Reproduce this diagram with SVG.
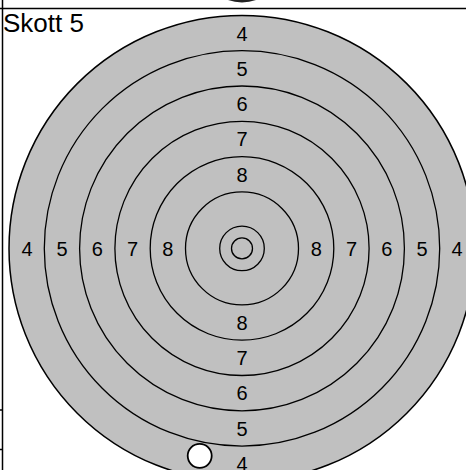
<svg xmlns="http://www.w3.org/2000/svg" width="466" height="470" viewBox="0 0 466 470">
<style>
.ring{fill:none;stroke:#000;stroke-width:1.3}
.lbl{font-family:"Liberation Sans",Arial,sans-serif;font-size:20px;fill:#000;text-anchor:middle}
.frame{stroke:#000;stroke-width:1.5;fill:none}
</style>
<rect width="466" height="470" fill="#fff"/>
<g id="frame">
<circle cx="242" cy="-38" r="40.5" fill="#222"/>
<line class="frame" x1="0" y1="8.5" x2="466" y2="8.5"/>
<line class="frame" x1="2.5" y1="0" x2="2.5" y2="470"/>
<line class="frame" x1="0" y1="410" x2="3" y2="410"/>
<line class="frame" x1="0" y1="449.5" x2="3" y2="449.5"/>
</g>
<g id="target">
<circle cx="242" cy="248.4" r="233" fill="#c0c0c0" stroke="#000" stroke-width="1.5"/>
<circle class="ring" cx="242" cy="248.4" r="197.7"/>
<circle class="ring" cx="242" cy="248.4" r="162.4"/>
<circle class="ring" cx="242" cy="248.4" r="127.1"/>
<circle class="ring" cx="242" cy="248.4" r="91.8"/>
<circle class="ring" cx="242" cy="248.4" r="56.5"/>
<circle class="ring" cx="242" cy="248.4" r="22.3"/>
<circle class="ring" cx="242" cy="248.4" r="10.5"/>
</g>
<g id="labels">
<text class="lbl" x="242" y="40.5">4</text>
<text class="lbl" x="242" y="75.8">5</text>
<text class="lbl" x="242" y="111.1">6</text>
<text class="lbl" x="242" y="146.4">7</text>
<text class="lbl" x="242" y="181.7">8</text>
<text class="lbl" x="242" y="329.8">8</text>
<text class="lbl" x="242" y="365.1">7</text>
<text class="lbl" x="242" y="400.4">6</text>
<text class="lbl" x="242" y="435.7">5</text>
<text class="lbl" x="242" y="471">4</text>
<text class="lbl" x="27" y="255.6">4</text>
<text class="lbl" x="62" y="255.6">5</text>
<text class="lbl" x="97.2" y="255.6">6</text>
<text class="lbl" x="132.5" y="255.6">7</text>
<text class="lbl" x="167.8" y="255.6">8</text>
<text class="lbl" x="316.2" y="255.6">8</text>
<text class="lbl" x="351.5" y="255.6">7</text>
<text class="lbl" x="386.8" y="255.6">6</text>
<text class="lbl" x="422" y="255.6">5</text>
<text class="lbl" x="457" y="255.6">4</text>
</g>
<g id="hole">
<circle cx="199.7" cy="455.8" r="12" fill="#fff" stroke="#000" stroke-width="1.8"/>
</g>
<g id="title">
<text x="3" y="32" font-family="'Liberation Sans',Arial,sans-serif" font-size="26" fill="#000">Skott 5</text>
</g>
</svg>
